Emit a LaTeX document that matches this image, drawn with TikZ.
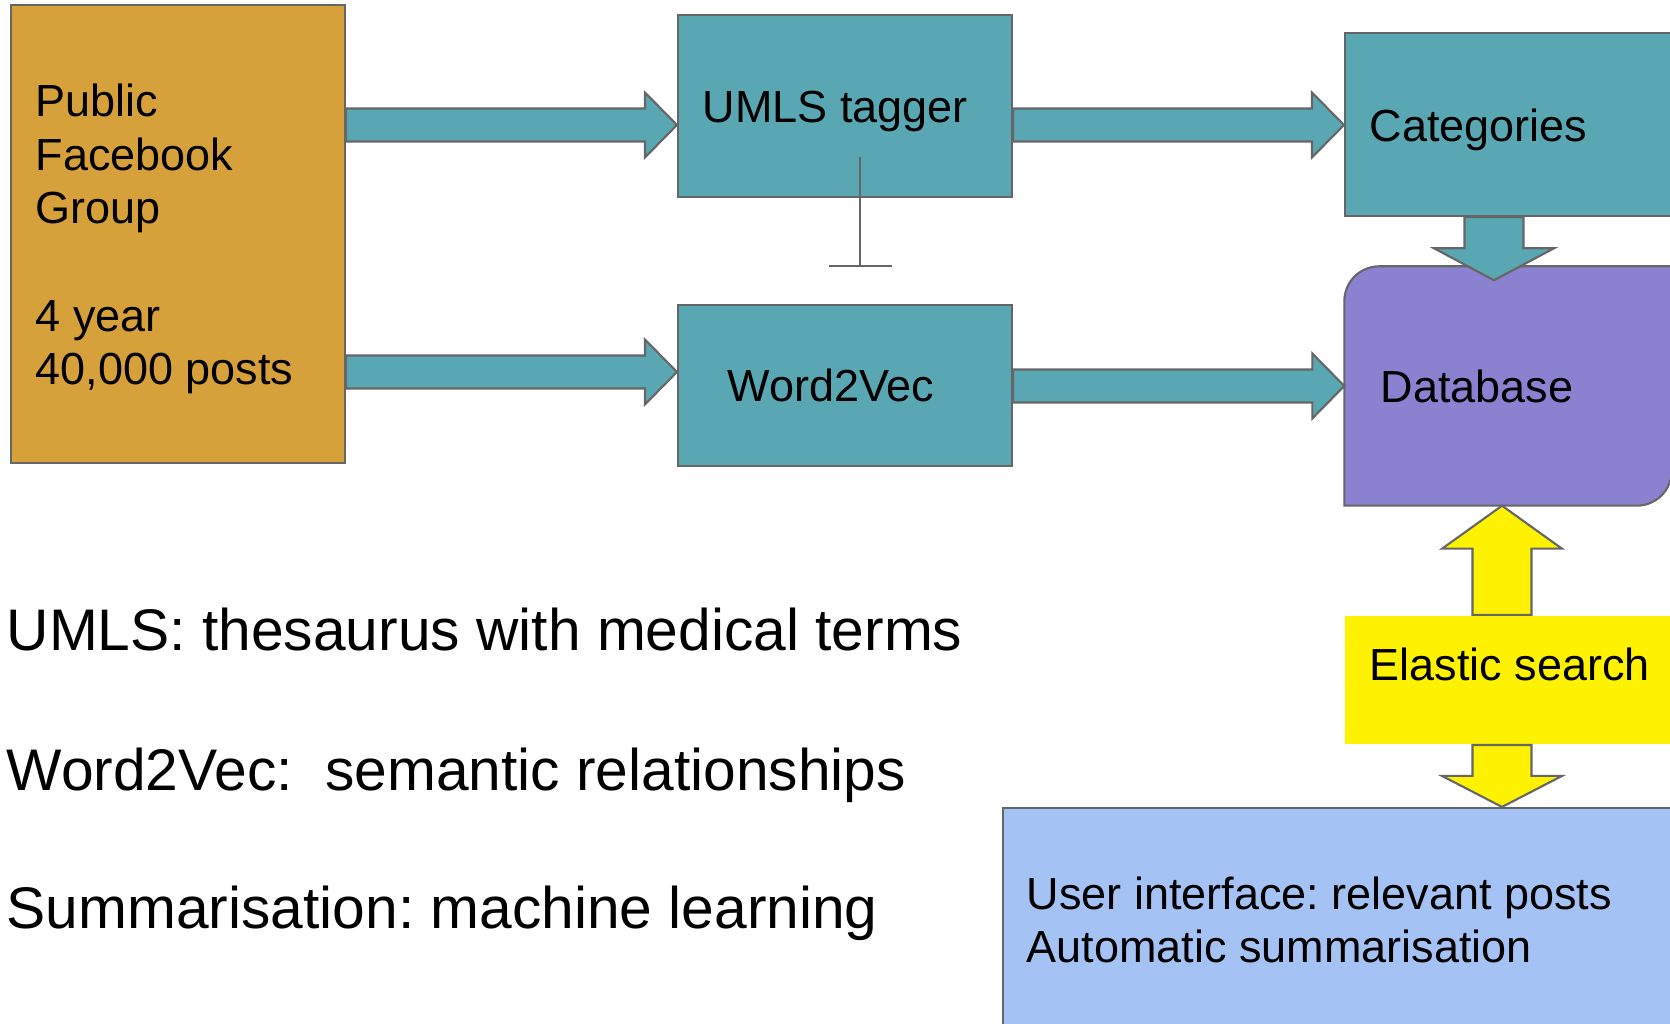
\documentclass[tikz,border=0pt]{standalone}
\usepackage{fontspec}
\setmainfont{Liberation Sans}
\usetikzlibrary{arrows.meta,calc}
\definecolor{fbgold}{HTML}{D6A03A}
\definecolor{nlpteal}{HTML}{5AA7B4}
\definecolor{dbviolet}{HTML}{8A82D0}
\definecolor{uiblue}{HTML}{A4C2F4}
\definecolor{rimgray}{HTML}{666666}
\frenchspacing
\tikzset{
  box/.style={draw=rimgray, line width=0.6pt, inner sep=0pt, fill=#1},
  boxtext/.style={anchor=base west, inner sep=0pt, align=left, font=\fontsize{12.8}{15.3}\selectfont},
  notetext/.style={anchor=base west, inner sep=0pt, font=\fontsize{16.7}{19.9}\selectfont},
  flow/.style={draw=rimgray, line width=0.6pt, fill=#1},
  eastflow/.style={to path={let \p1=(\tikztostart), \p2=(\tikztotarget) in
    (\x1,\y1+0.165cm) -- (\x2-0.32cm,\y1+0.165cm) -- (\x2-0.32cm,\y1+0.325cm) -- (\x2,\y1)
    -- (\x2-0.32cm,\y1-0.325cm) -- (\x2-0.32cm,\y1-0.165cm) -- (\x1,\y1-0.165cm) -- cycle}},
  southflow/.style={to path={let \p1=(\tikztostart), \p2=(\tikztotarget) in
    (\x1-0.295cm,\y1) -- (\x1-0.295cm,\y2+#1) -- (\x1-0.6cm,\y2+#1) -- (\x1,\y2)
    -- (\x1+0.6cm,\y2+#1) -- (\x1+0.295cm,\y2+#1) -- (\x1+0.295cm,\y1) -- cycle}},
  northflow/.style={to path={let \p1=(\tikztostart), \p2=(\tikztotarget) in
    (\x1-0.295cm,\y1) -- (\x1-0.295cm,\y2-#1) -- (\x1-0.6cm,\y2-#1) -- (\x1,\y2)
    -- (\x1+0.6cm,\y2-#1) -- (\x1+0.295cm,\y2-#1) -- (\x1+0.295cm,\y1) -- cycle}},
}
\begin{document}
\begin{tikzpicture}[x=0.1mm,y=0.1mm]
        \useasboundingbox (0,0) rectangle (1670,1024);
        \clip (0,0) rectangle (1670,1024);
        \node[box=fbgold, minimum width=3.34cm, minimum height=4.58cm] (src) at (178,790) {};
        \node[box=nlpteal, minimum width=3.34cm, minimum height=1.82cm] (umls) at (845,918) {};
        \node[box=nlpteal, minimum width=3.34cm, minimum height=1.61cm] (w2v) at (845,638.5) {};
        \node[box=nlpteal, minimum width=3.30cm, minimum height=1.83cm] (cat) at (1510,899.5) {};
        \node[box=yellow, draw=none, minimum width=3.30cm, minimum height=1.28cm] (es) at (1510,344) {};
        \node[box=uiblue, minimum width=6.72cm, minimum height=2.22cm] (ui) at (1339,105) {};
        \node[inner sep=0pt, minimum width=3.26cm, minimum height=2.38cm] (db) at (1508,638) {};
        \filldraw[flow=dbviolet] ([yshift=-0.35cm]db.north west) to[out=90,in=180] ([xshift=0.35cm]db.north west)
            -- (db.north east) -- ([yshift=0.35cm]db.south east) to[out=-90,in=0] ([xshift=-0.35cm]db.south east)
            -- (db.south west) -- cycle;
        \coordinate (tagfoot) at (860,757);
        \draw[rimgray, line width=0.6pt, -{Bar[width=0.63cm]}] ($(umls.south -| tagfoot)+(0,41)$) -- (tagfoot);
        \draw[flow=nlpteal] (src.east |- 0,899) to[eastflow] (umls.west |- 0,899);
        \draw[flow=nlpteal] (src.east |- 0,652) to[eastflow] (w2v.west |- 0,652);
        \draw[flow=nlpteal] (umls.east |- 0,899) to[eastflow] (cat.west |- 0,899);
        \draw[flow=nlpteal] (w2v.east |- 0,638) to[eastflow] (db.west |- 0,638);
        \draw[flow=nlpteal] (cat.south -| 1494,0) to[southflow=0.32cm] ($(db.north -| 1494,0)+(0,-14)$);
        \draw[flow=yellow] (es.north -| 1502,0) to[northflow=0.43cm] (db.south -| 1502,0);
        \draw[flow=yellow] (es.south -| 1502,0) to[southflow=0.31cm] (ui.north -| 1502,0);
        \node[boxtext] (srctext) at (35,639) {Public\\Facebook\\Group\\[0.536cm]4 year\\40,000 posts};
        \node[boxtext] (umlstext) at (702,901) {UMLS tagger};
        \node[boxtext] (w2vtext) at (727,622) {Word2Vec};
        \node[boxtext] (cattext) at (1369,882) {Categories};
        \node[boxtext] (dbtext) at (1380,621) {Database};
        \node[boxtext] (estext) at (1369,343) {Elastic search};
        \node[boxtext] (uitext) at (1026,61) {User interface: relevant posts\\Automatic summarisation};
        \node[notetext] (umlsnote) at (6,373) {UMLS: thesaurus with medical terms};
        \node[notetext] (w2vnote) at (6,233) {Word2Vec:~ semantic relationships};
        \node[notetext] (sumnote) at (6,95) {Summarisation: machine learning};
\end{tikzpicture}
\end{document}
